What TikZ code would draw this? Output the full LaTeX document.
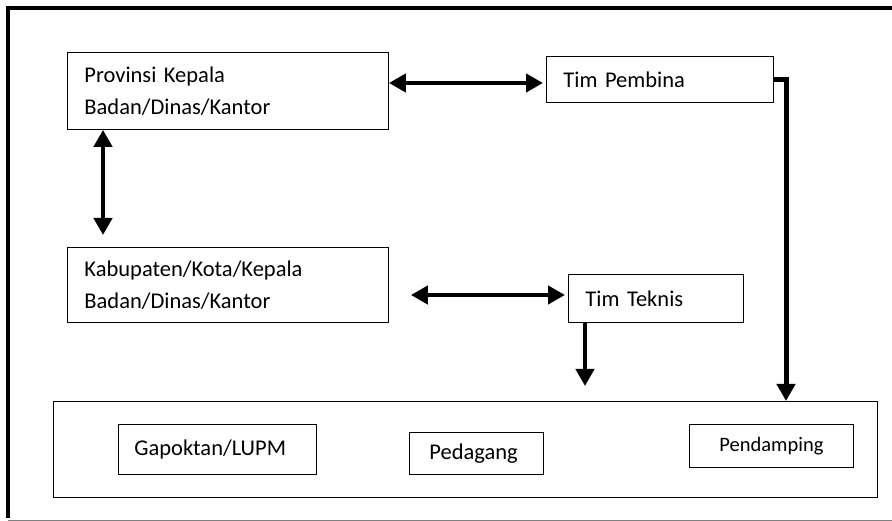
\documentclass[tikz,border=0pt]{standalone}
\usepackage{fontspec}
\setmainfont{Carlito}
\usetikzlibrary{arrows.meta}

\tikzset{
  kotak/.style args={#1x#2}{draw, line width=0.9pt, anchor=north west,
    minimum width=#1, minimum height=#2, inner ysep=0pt,
    font=\fontsize{22.5}{32}\selectfont},
  kiri/.style={align=left, inner xsep=17pt},
  panah/.style={line width=4.5pt, -{Triangle[length=17pt,width=18pt]}},
  duapanah/.style={line width=4.5pt, {Triangle[length=17pt,width=18pt]}-{Triangle[length=17pt,width=18pt]}},
}

\begin{document}
\begin{tikzpicture}[x=1pt,y=-1pt]

\useasboundingbox (0,0) rectangle (892,521);
\draw[line width=3.5pt] (8,518) -- (8,8) -- (892,8);
\draw[gray, line width=1pt] (8,520) -- (892,520);

\node[kotak=321ptx77pt, kiri, text width=287pt] (prov) at (67,52) {Provinsi Kepala\\Badan/Dinas/Kantor};
\node[kotak=227ptx46pt, kiri, text width=193pt] (pembina) at (546,56) {Tim Pembina};

\node[kotak=321ptx75pt, kiri, text width=287pt] (kab) at (67,247) {Kabupaten/Kota/Kepala\\Badan/Dinas/Kantor};
\node[kotak=175ptx48pt, kiri, text width=141pt] (teknis) at (568,274) {Tim Teknis};

% kotak bawah
\node[kotak=824ptx96pt] (bawah) at (53,401) {};
\node[kotak=198ptx50pt, kiri, text width=166pt, inner xsep=16pt] (gapoktan) at (118,424) {Gapoktan/LUPM};
\node[kotak=134ptx42pt, kiri, text width=94pt, inner xsep=20pt] (pedagang) at (409,432) {Pedagang};
\node[kotak=164ptx43pt, font=\fontsize{20.5}{25}\selectfont] (pendamping) at (689,424) {Pendamping};

\draw[duapanah, shorten >=3pt] (prov.east |- 0,83) -- (pembina.west |- 0,83);
\draw[duapanah, shorten >=12pt] (prov.south -| 103,0) -- (kab.north -| 103,0);
\draw[duapanah, shorten <=22pt, shorten >=3pt] (kab.east |- 0,295) -- (teknis.west |- 0,295);
\draw[panah, shorten >=15pt] (teknis.south -| 585,0) -- (bawah.north -| 585,0);
\draw[panah, line width=5pt, -{Triangle[length=17pt,width=18pt]}] (pembina.east) -| (bawah.north -| 786,0);

\end{tikzpicture}
\end{document}
